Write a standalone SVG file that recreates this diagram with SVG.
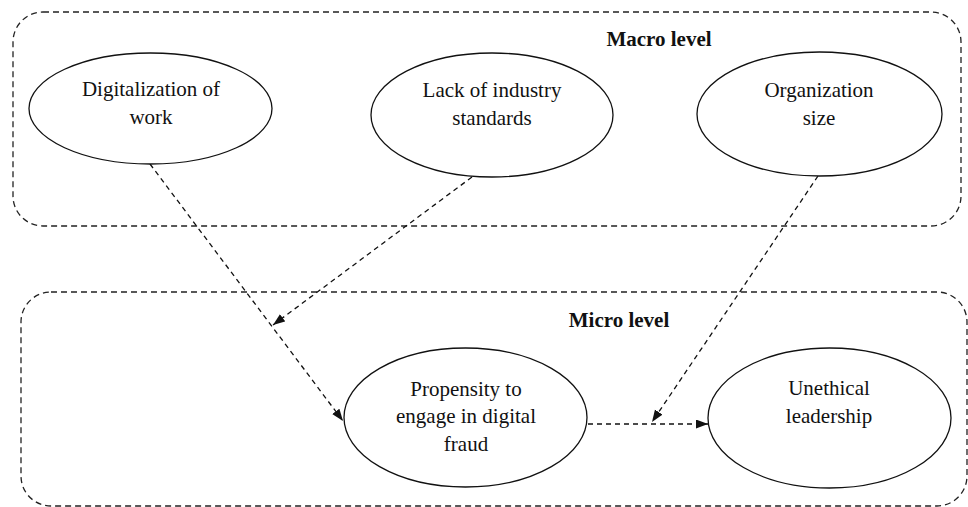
<svg xmlns="http://www.w3.org/2000/svg" width="968" height="507" viewBox="0 0 968 507">
<style>
  .box { fill: none; stroke: #222; stroke-width: 1.3; stroke-dasharray: 6 4; }
  .node { fill: #fff; stroke: #111; stroke-width: 1.3; }
  .lbl { font-family: "Liberation Serif", "Times New Roman", serif; font-size: 21px; fill: #111; text-anchor: middle; }
  .title { font-family: "Liberation Serif", "Times New Roman", serif; font-size: 21px; font-weight: bold; fill: #111; text-anchor: middle; }
  .conn { fill: none; stroke: #111; stroke-width: 1.3; stroke-dasharray: 5 4; }
</style>
<defs>
  <marker id="arrow" markerUnits="userSpaceOnUse" markerWidth="13" markerHeight="10" refX="12" refY="4.5" orient="auto">
    <path d="M0,0 L12,4.5 L0,9 z" fill="#111"/>
  </marker>
</defs>
<rect width="968" height="507" fill="#fff"/>
<g id="macro-level">
  <rect class="box" x="13" y="12" width="948" height="214" rx="30" ry="30"/>
  <text class="title" x="659" y="46">Macro level</text>
</g>
<g id="micro-level">
  <rect class="box" x="21" y="292" width="946" height="214" rx="30" ry="30"/>
  <text class="title" x="619" y="327">Micro level</text>
</g>
<g id="connectors">
  <line class="conn" x1="150" y1="164" x2="343" y2="421" marker-end="url(#arrow)"/>
  <line class="conn" x1="472" y1="177" x2="273" y2="325" marker-end="url(#arrow)"/>
  <line class="conn" x1="818" y1="176" x2="652" y2="422" marker-end="url(#arrow)"/>
  <line class="conn" x1="588" y1="424" x2="708" y2="424" marker-end="url(#arrow)"/>
</g>
<g id="digitalization">
  <ellipse class="node" cx="150.5" cy="108.5" rx="121.5" ry="55.5"/>
  <text class="lbl" x="151" y="96">Digitalization of</text>
  <text class="lbl" x="151" y="124">work</text>
</g>
<g id="lack-standards">
  <ellipse class="node" cx="492" cy="115" rx="121" ry="62"/>
  <text class="lbl" x="492" y="97">Lack of industry</text>
  <text class="lbl" x="492" y="125">standards</text>
</g>
<g id="organization-size">
  <ellipse class="node" cx="819.5" cy="114" rx="122.5" ry="62"/>
  <text class="lbl" x="819" y="97">Organization</text>
  <text class="lbl" x="819" y="125">size</text>
</g>
<g id="propensity">
  <ellipse class="node" cx="465.5" cy="417.5" rx="121.5" ry="69.5"/>
  <text class="lbl" x="466" y="396">Propensity to</text>
  <text class="lbl" x="466" y="423">engage in digital</text>
  <text class="lbl" x="466" y="451">fraud</text>
</g>
<g id="unethical-leadership">
  <ellipse class="node" cx="829.5" cy="418" rx="121.5" ry="70"/>
  <text class="lbl" x="829" y="395">Unethical</text>
  <text class="lbl" x="829" y="423">leadership</text>
</g>
</svg>
